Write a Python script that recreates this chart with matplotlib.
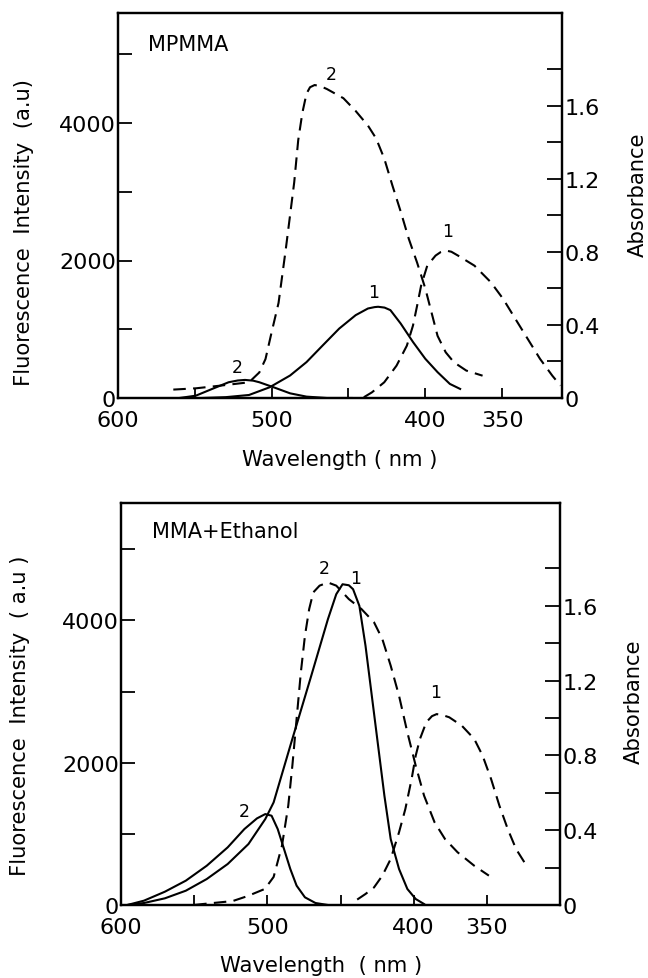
import numpy as np
import matplotlib
matplotlib.use("Agg")
import matplotlib.pyplot as plt

# ---- MPMMA (top panel) ----
# solid curves: fluorescence intensity (left axis)
top_s1_wl = [545, 530, 514.7, 501.3, 488, 477.3, 466.7, 456, 445.3, 437.3, 433, 430.7,
             426.5, 422.7, 416, 408, 400, 392, 384, 377.3]
top_s1_f = [0, 12, 44, 156, 327, 522, 766, 1010, 1205, 1302, 1322, 1327,
            1315, 1278, 1083, 815, 571, 376, 205, 132]
top_s2_wl = [560, 549.3, 538.7, 528, 522, 517.3, 512, 508, 498.7, 488, 477.3, 464, 448]
top_s2_f = [0, 34, 132, 229, 255, 263, 252, 229, 156, 68, 20, 0, 0]
# dashed curves: absorbance (right axis)
top_d1_wl = [440, 434.7, 426.7, 418.7, 412, 408, 405.3, 402.7, 398.7, 393.3, 390, 386.7,
             383, 378.7, 368, 357.3, 349.3, 341.3, 333.3, 325.3, 317.3, 312]
top_d1_a = [0.004, 0.031, 0.086, 0.177, 0.286, 0.396, 0.505, 0.615, 0.724, 0.779, 0.798, 0.807,
            0.800, 0.779, 0.724, 0.633, 0.542, 0.432, 0.323, 0.214, 0.122, 0.068]
top_d2_wl = [564, 549.3, 533, 514.7, 508, 504, 500, 495.5, 490.7, 485.3, 482.7, 480,
             477.3, 475, 472, 468, 464, 453.3, 445.3, 437.3, 432, 426.7, 421.3, 416, 410.7,
             405.3, 400, 396, 392, 386.7, 381.3, 373.3, 362.7]
top_d2_a = [0.046, 0.053, 0.068, 0.086, 0.140, 0.213, 0.36, 0.52, 0.82, 1.18, 1.41, 1.56,
            1.665, 1.700, 1.712, 1.705, 1.69, 1.64, 1.57, 1.49, 1.42, 1.31, 1.16, 1.02, 0.87,
            0.74, 0.60, 0.47, 0.34, 0.25, 0.195, 0.15, 0.122]

# ---- MMA + Ethanol (bottom panel) ----
bot_s1_wl = [595.7, 584.3, 570, 555.7, 541.4, 527.1, 512.9, 501.4, 495.7, 484.3, 470,
             458.6, 452.9, 448.6, 444.3, 441.4, 437.1, 432.9, 428.6, 424.3, 420, 415.7,
             410, 404.3, 398.6, 392.9]
bot_s1_f = [0, 28, 94, 201, 365, 576, 857, 1208, 1442, 2238, 3221,
            4017, 4368, 4508, 4494, 4438, 4204, 3642, 2940, 2238, 1536, 927,
            506, 225, 84, 14]
bot_s2_wl = [595.7, 584.3, 570, 555.7, 541.4, 527.1, 515.7, 507.1, 501.4, 497.1, 492.9,
             488.6, 484.3, 480, 474.3, 467.1, 458.6]
bot_s2_f = [0, 61, 187, 342, 552, 810, 1067, 1217, 1278, 1255, 1067,
            787, 506, 272, 108, 28, 0]
bot_d1_wl = [438.6, 432.9, 427.1, 421.4, 415.7, 410, 405.7, 401.4, 398.6, 395.7, 391.4,
             387.5, 384.3, 380, 375.7, 367.1, 358.6, 352.9, 347.1, 341.4, 335.7, 330, 324.3,
             321.4]
bot_d1_a = [0.029, 0.059, 0.094, 0.157, 0.246, 0.389, 0.513, 0.674, 0.799, 0.888, 0.977,
            1.010, 1.021, 1.015, 1.004, 0.959, 0.888, 0.799, 0.674, 0.531, 0.406, 0.299,
            0.228, 0.201]
bot_d2_wl = [550, 544.3, 523.7, 513.4, 501.7, 495.7, 490, 485.7, 482.9, 480, 477.1, 474.3,
             471.4, 468.6, 464.3, 458.6, 452.9, 444.3, 435.7, 427.1, 421.4, 415.7, 410,
             404.3, 398.6, 392.9, 385.7, 378.6, 370, 358.6, 348.6]
bot_d2_a = [0.0, 0.005, 0.021, 0.048, 0.086, 0.150, 0.317, 0.531, 0.745, 0.995, 1.244,
            1.440, 1.583, 1.672, 1.708, 1.725, 1.708, 1.636, 1.583, 1.512, 1.422, 1.280,
            1.119, 0.923, 0.745, 0.585, 0.442, 0.353, 0.282, 0.210, 0.157]

x_ticks = [600, 550, 500, 450, 400, 350]
x_labels = ["600", "", "500", "", "400", "350"]
f_ticks = [0, 1000, 2000, 3000, 4000, 5000]
f_labels = ["0", "", "2000", "", "4000", ""]
a_ticks = [0, 0.2, 0.4, 0.6, 0.8, 1.0, 1.2, 1.4, 1.6, 1.8]
a_labels = ["0", "", "0.4", "", "0.8", "", "1.2", "", "1.6", ""]

W, H = 648, 979
fig = plt.figure(figsize=(W / 100, H / 100), dpi=100)
plt.rcParams["font.family"] = ["DejaVu Sans"]

lw = 1.5
dash = (6, 3.5)


def panel(rect, xlim, flim, alim, s1, s2, d1, d2, name, name_xy, labels):
    ax = fig.add_axes(rect)
    ax2 = ax.twinx()
    ax.plot(*s1, color="k", lw=lw)
    ax.plot(*s2, color="k", lw=lw)
    ax2.plot(*d1, color="k", lw=lw, dashes=dash)
    ax2.plot(*d2, color="k", lw=lw, dashes=dash)
    ax.set_xlim(*xlim)
    ax.set_ylim(*flim)
    ax2.set_ylim(*alim)
    ax.set_xticks(x_ticks)
    ax.set_xticklabels(x_labels)
    ax.set_yticks(f_ticks)
    ax.set_yticklabels(f_labels)
    ax2.set_yticks(a_ticks)
    ax2.set_yticklabels(a_labels)
    ax.tick_params(axis="x", direction="in", length=7, width=1.3, pad=9, labelsize=16)
    ax.tick_params(axis="y", direction="in", length=10, width=1.3, pad=1.5, labelsize=16)
    ax2.tick_params(axis="y", direction="in", length=11, width=1.3, pad=2, labelsize=16)
    for a in (ax, ax2):
        for sp in a.spines.values():
            sp.set_linewidth(1.6)
    ax.text(name_xy[0], name_xy[1], name, transform=ax.transAxes, fontsize=15,
            ha="left", va="center")
    for lx, ly, t in labels:
        ax.text(lx, ly, t, fontsize=12.5, ha="center", va="center")
    return ax


def rect(l, t, r, b):
    return [l / W, 1 - b / H, (r - l) / W, (b - t) / H]


panel(rect(118, 14, 562, 399), (600, 311), (0, 5600), (0, 2.106),
      (top_s1_wl, top_s1_f), (top_s2_wl, top_s2_f),
      (top_d1_wl, top_d1_a), (top_d2_wl, top_d2_a),
      "MPMMA", (0.068, 0.92),
      [(461.3, 4717, "2"), (433.3, 1546, "1"), (385.3, 2424, "1"), (522.7, 449, "2")])

panel(rect(121, 504, 560, 906), (598, 300), (0, 5650), (0, 2.15),
      (bot_s1_wl, bot_s1_f), (bot_s2_wl, bot_s2_f),
      (bot_d1_wl, bot_d1_a), (bot_d2_wl, bot_d2_a),
      "MMA+Ethanol", (0.07, 0.93),
      [(461.4, 4742, "2"), (440, 4602, "1"), (384.9, 2987, "1"), (515.7, 1325, "2")])

fs_lab = 15.2
fig.text(24 / W, 1 - 232 / H, "Fluorescence  Intensity  (a.u)", rotation=90,
         ha="center", va="center", fontsize=fs_lab)
fig.text(20 / W, 1 - 716 / H, "Fluorescence  Intensity  ( a.u )", rotation=90,
         ha="center", va="center", fontsize=fs_lab)
fig.text(638 / W, 1 - 195 / H, "Absorbance", rotation=90,
         ha="center", va="center", fontsize=fs_lab)
fig.text(634 / W, 1 - 702 / H, "Absorbance", rotation=90,
         ha="center", va="center", fontsize=fs_lab)
fig.text(340 / W, 1 - 460 / H, "Wavelength ( nm )", ha="center", va="center",
         fontsize=fs_lab)
fig.text(321 / W, 1 - 966 / H, "Wavelength  ( nm )", ha="center", va="center",
         fontsize=fs_lab)

fig.savefig("out.png", dpi=100)
